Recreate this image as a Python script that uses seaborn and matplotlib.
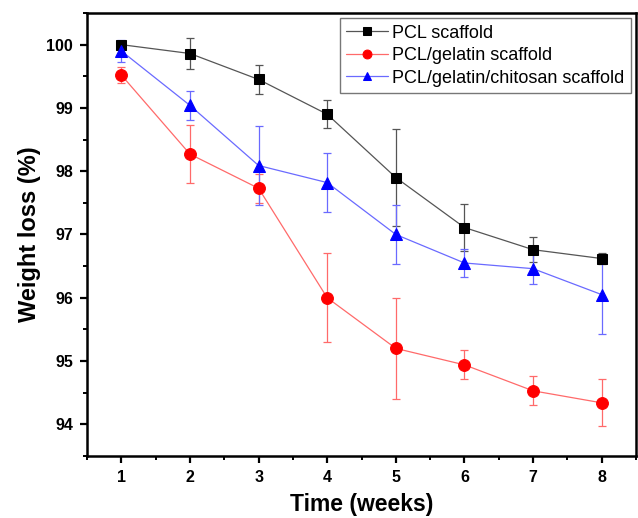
import numpy as np
import pandas as pd
import matplotlib
matplotlib.use("Agg")
import matplotlib.pyplot as plt
import seaborn as sns
from matplotlib.ticker import MultipleLocator

# values
weeks = [1, 2, 3, 4, 5, 6, 7, 8]

pcl = [100.0, 99.86, 99.45, 98.90, 97.90, 97.11, 96.76, 96.62]
pcl_err = [0.03, 0.24, 0.23, 0.22, 0.76, 0.37, 0.20, 0.08]

pcl_gel = [99.52, 98.27, 97.73, 96.00, 95.20, 94.94, 94.53, 94.34]
pcl_gel_err = [0.13, 0.46, 0.23, 0.70, 0.80, 0.23, 0.23, 0.37]

pcl_gel_chi = [99.90, 99.04, 98.09, 97.82, 97.00, 96.55, 96.46, 96.05]
pcl_gel_chi_err = [0.17, 0.23, 0.62, 0.46, 0.47, 0.22, 0.24, 0.63]

labels = ["PCL scaffold", "PCL/gelatin scaffold", "PCL/gelatin/chitosan scaffold"]

sns.set_style("white")
plt.rcParams['font.family'] = ['Liberation Sans', 'DejaVu Sans']
plt.rcParams['text.color'] = 'black'
plt.rcParams['axes.labelcolor'] = 'black'
plt.rcParams['xtick.color'] = 'black'
plt.rcParams['ytick.color'] = 'black'

fig = plt.figure(figsize=(6.38, 5.18), dpi=100)
ax = fig.add_axes([0.1364, 0.1197, 0.8605, 0.8552])

series = [
    (pcl, pcl_err, labels[0], "#000000", "#555555", "s", 7.5),
    (pcl_gel, pcl_gel_err, labels[1], "#ff0000", "#ff6a6a", "o", 8.5),
    (pcl_gel_chi, pcl_gel_chi_err, labels[2], "#0000ff", "#6a6aff", "^", 8.5),
]

for vals, errs, lab, col, lcol, mk, ms in series:
    df = pd.DataFrame({"week": weeks, "loss": vals})
    ax.errorbar(weeks, vals, yerr=errs, fmt="none", ecolor=lcol,
                elinewidth=0.9, capsize=3, capthick=0.9, zorder=2)
    sns.lineplot(data=df, x="week", y="loss", ax=ax, color=lcol, lw=0.9,
                 marker=mk, markersize=ms, markerfacecolor=col,
                 markeredgecolor=col, label=lab, zorder=3)

ax.set_xlim(0.5, 8.5)
ax.set_ylim(93.5, 100.5)
ax.xaxis.set_major_locator(MultipleLocator(1))
ax.xaxis.set_minor_locator(MultipleLocator(0.5))
ax.yaxis.set_major_locator(MultipleLocator(1))
ax.yaxis.set_minor_locator(MultipleLocator(0.5))

for s in ax.spines.values():
    s.set_linewidth(1.8)
    s.set_color("black")

ax.tick_params(axis="both", which="major", direction="out", length=5,
               width=1.6, labelsize=11.5, bottom=True, left=True, pad=5,
               colors="black")
ax.tick_params(axis="both", which="minor", direction="out", length=3,
               width=1.4, bottom=True, left=True, colors="black")
for t in ax.get_xticklabels() + ax.get_yticklabels():
    t.set_fontweight("bold")

ax.set_xlabel("Time (weeks)", fontsize=16.5, fontweight="bold", labelpad=6,
              color="black")
ax.set_ylabel("Weight loss (%)", fontsize=17, fontweight="bold", labelpad=4,
              color="black")

leg = ax.legend(loc="upper right", fontsize=13, frameon=True, fancybox=False,
                borderaxespad=0.3, handlelength=2.3, handletextpad=0.25,
                borderpad=0.35, labelspacing=0.3, markerscale=0.75)
leg.get_frame().set_edgecolor("#555555")
leg.get_frame().set_linewidth(1.0)
for t in leg.get_texts():
    t.set_color("black")

fig.savefig("out.png", dpi=100)
